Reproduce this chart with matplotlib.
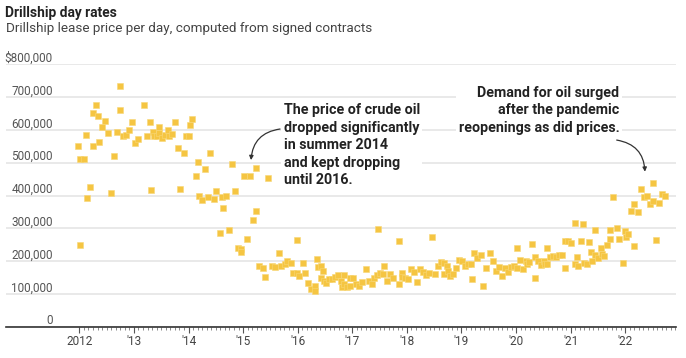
import numpy as np
import matplotlib
matplotlib.use('Agg')
import matplotlib.pyplot as plt
from matplotlib.ticker import FixedLocator
from matplotlib.transforms import ScaledTranslation

plt.rcParams['font.family'] = ['Roboto', 'DejaVu Sans']

# contract dates (decimal years) and day rates (thousand $ per day)
dates = [
    2011.97, 2012.01, 2012.02, 2012.08, 2012.13, 2012.135, 2012.19, 2012.245, 2012.25,
    2012.30, 2012.35, 2012.355, 2012.41, 2012.47, 2012.525, 2012.58, 2012.635, 2012.69,
    2012.745, 2012.75, 2012.80, 2012.855, 2012.91, 2012.965, 2013.025, 2013.075, 2013.19,
    2013.245, 2013.30, 2013.305, 2013.355, 2013.36, 2013.42, 2013.46, 2013.465, 2013.51,
    2013.575, 2013.62, 2013.64, 2013.69, 2013.744, 2013.80, 2013.85, 2013.91, 2013.963,
    2014.018, 2014.02, 2014.073, 2014.13, 2014.18, 2014.185, 2014.24, 2014.30, 2014.35,
    2014.40, 2014.46, 2014.51, 2014.57, 2014.62, 2014.63, 2014.68, 2014.74, 2014.79,
    2014.85, 2014.90, 2014.96, 2014.965, 2015.02, 2015.07, 2015.13, 2015.19, 2015.24,
    2015.245, 2015.30, 2015.36, 2015.41, 2015.465, 2015.53, 2015.58, 2015.65, 2015.70,
    2015.76, 2015.81, 2015.87, 2015.91, 2015.98, 2015.985, 2016.03, 2016.09, 2016.14,
    2016.19, 2016.25, 2016.31, 2016.315, 2016.36, 2016.365, 2016.42, 2016.425, 2016.47,
    2016.475, 2016.52, 2016.58, 2016.63, 2016.69, 2016.74, 2016.80, 2016.805, 2016.85,
    2016.855, 2016.91, 2016.96, 2016.965, 2017.02, 2017.07, 2017.13, 2017.18, 2017.25,
    2017.31, 2017.36, 2017.40, 2017.46, 2017.47, 2017.51, 2017.57, 2017.575, 2017.64,
    2017.69, 2017.75, 2017.85, 2017.86, 2017.91, 2017.915, 2017.97, 2018.02, 2018.08,
    2018.13, 2018.19, 2018.24, 2018.30, 2018.35, 2018.41, 2018.46, 2018.52, 2018.57,
    2018.63, 2018.68, 2018.685, 2018.74, 2018.745, 2018.79, 2018.85, 2018.90, 2018.96,
    2019.01, 2019.07, 2019.12, 2019.18, 2019.185, 2019.23, 2019.28, 2019.35, 2019.40,
    2019.45, 2019.52, 2019.58, 2019.63, 2019.69, 2019.75, 2019.80, 2019.85, 2019.91,
    2019.96, 2020.02, 2020.025, 2020.08, 2020.13, 2020.19, 2020.195, 2020.24, 2020.30,
    2020.35, 2020.355, 2020.41, 2020.46, 2020.52, 2020.525, 2020.57, 2020.575, 2020.63,
    2020.68, 2020.74, 2020.79, 2020.85, 2020.90, 2020.95, 2020.905, 2021.01, 2021.07,
    2021.075, 2021.12, 2021.125, 2021.18, 2021.23, 2021.235, 2021.29, 2021.34, 2021.38,
    2021.39, 2021.44, 2021.445, 2021.50, 2021.56, 2021.565, 2021.61, 2021.67, 2021.72,
    2021.725, 2021.77, 2021.84, 2021.89, 2021.95, 2022.00, 2022.005, 2022.05, 2022.11,
    2022.16, 2022.165, 2022.23, 2022.28, 2022.34, 2022.39, 2022.45, 2022.50, 2022.505,
    2022.56, 2022.61, 2022.67, 2022.72,
]
rates = [
    550, 510, 250, 510, 584, 391, 425, 653, 550,
    676, 642, 562, 609, 627, 592, 409, 519, 595,
    734, 660, 580, 583, 599, 625, 559, 573, 676,
    580, 624, 417, 595, 580, 580, 590, 609, 575,
    584, 601, 580, 589, 625, 545, 420, 530, 581,
    581, 616, 634, 460, 502, 400, 386, 480, 396,
    530, 390, 414, 286, 396, 361, 398, 296, 496,
    414, 241, 236, 229, 460, 267, 460, 325, 485,
    352, 184, 180, 151, 454, 184, 183, 225, 184,
    191, 200, 195, 165, 263, 163, 155, 195, 165,
    134, 115, 125, 108, 206, 181, 185, 150, 169,
    139, 134, 146, 146, 152, 159, 139, 122, 159,
    130, 120, 150, 124, 150, 130, 125, 135, 176,
    139, 129, 148, 157, 298, 163, 160, 184, 140,
    160, 150, 260, 129, 163, 153, 150, 145, 176,
    166, 136, 176, 166, 159, 165, 275, 160, 184,
    196, 194, 160, 184, 169, 155, 160, 178, 203,
    200, 184, 191, 191, 145, 224, 209, 219, 125,
    180, 224, 200, 169, 181, 155, 179, 166, 181,
    185, 239, 179, 203, 176, 199, 191, 196, 253,
    212, 148, 199, 188, 199, 190, 239, 191, 214,
    217, 214, 220, 220, 260, 260, 179, 255, 317,
    191, 214, 184, 261, 314, 195, 191, 257, 229,
    199, 294, 219, 210, 239, 221, 217, 249, 294,
    266, 394, 301, 268, 194, 291, 274, 283, 354,
    374, 246, 350, 419, 394, 398, 374, 384, 439,
    265, 377, 406, 398,
]

year_ticks = list(range(2012, 2023))
year_labels = ['2012'] + ["'%02d" % (y % 100) for y in year_ticks[1:]]
rate_ticks = [0, 100000, 200000, 300000, 400000, 500000, 600000, 700000, 800000]
rate_labels = ['0', '100,000', '200,000', '300,000', '400,000', '500,000',
               '600,000', '700,000', '$800,000']

fig = plt.figure(figsize=(6.86, 3.58), dpi=100)
ax = fig.add_axes([6 / 686, 1 - 326.7 / 358, 670 / 686, (326.7 - 64.3) / 358])

ax.scatter(dates, np.array(rates) * 1000, marker='s', s=13, color='#f5c542',
           edgecolors='#f8d776', linewidths=0.4, zorder=3)

ax.set_xlim(2010.657, 2022.929)
ax.set_ylim(0, 800000)

for s in ['top', 'left', 'right']:
    ax.spines[s].set_visible(False)
ax.spines['bottom'].set_color('#333333')
ax.spines['bottom'].set_linewidth(1.2)

ax.set_yticks(rate_ticks)
ax.set_yticklabels([])
ax.tick_params(axis='y', length=0)
ax.yaxis.grid(True, color='#e3e3e3', linewidth=1.1)
ax.set_axisbelow(True)
lab_tr = ax.get_yaxis_transform() + ScaledTranslation(0, 2.5 / 100, fig.dpi_scale_trans)
for v, t in zip(rate_ticks, rate_labels):
    ax.text(46.7 / 670, v, t, transform=lab_tr, ha='right', va='baseline',
            fontsize=8.5, color='#555555')

ax.set_xticks(year_ticks, year_labels)
ax.xaxis.set_minor_locator(FixedLocator(np.arange(2012, 2022.93, 1 / 12)))
ax.tick_params(axis='x', which='major', length=4, width=0.8, color='#555555',
               pad=2.2, labelsize=8.5, labelcolor='#444444')
ax.tick_params(axis='x', which='minor', length=2, width=0.6, color='#777777')

fig.text(5 / 686, 1 - 16.5 / 358, 'Drillship day rates', fontsize=9.9,
         fontweight='bold', color='#222222', va='baseline')
fig.text(6 / 686, 1 - 32.3 / 358,
         'Drillship lease price per day, computed from signed contracts',
         fontsize=9.7, color='#444444', va='baseline')

box = dict(facecolor='white', edgecolor='none', pad=2)
ax.text(2015.74, 682000,
        'The price of crude oil\ndropped significantly\nin summer 2014\nand kept dropping\nuntil 2016.',
        ha='left', va='top', fontsize=10.3, fontweight='bold', color='#222222',
        linespacing=1.32, bbox=box, zorder=4)
ax.annotate('', xy=(2015.145, 508000), xytext=(2015.676, 602700),
            arrowprops=dict(arrowstyle='-|>', color='#333333', lw=0.9,
                            mutation_scale=6, shrinkA=0, shrinkB=0,
                            connectionstyle='arc3,rad=0.4'), zorder=5)

ax.text(2021.89, 734000,
        'Demand for oil surged\nafter the pandemic\nreopenings as did prices.',
        ha='right', va='top', multialignment='right', fontsize=10.3,
        fontweight='bold', color='#222222', linespacing=1.32, bbox=box, zorder=4)
ax.annotate('', xy=(2022.36, 472600), xytext=(2021.843, 569000),
            arrowprops=dict(arrowstyle='-|>', color='#333333', lw=0.9,
                            mutation_scale=6, shrinkA=0, shrinkB=0,
                            connectionstyle='arc3,rad=-0.4'), zorder=5)

fig.savefig('out.png', dpi=100)
